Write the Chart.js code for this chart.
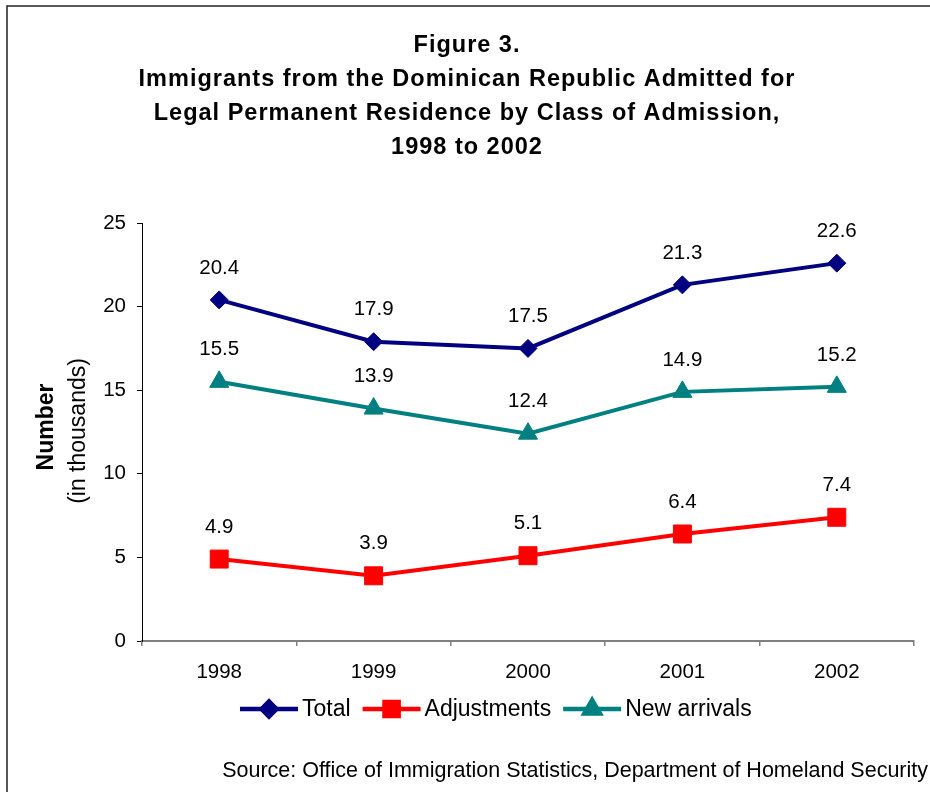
<!DOCTYPE html>
<html>
<head>
<meta charset="utf-8">
<script src="https://cdn.jsdelivr.net/npm/chart.js@4/dist/chart.umd.min.js"></script>
<style>
  html, body { margin: 0; padding: 0; background: #fff; }
  #wrap { width: 930px; height: 792px; position: relative; }
</style>
</head>
<body>
<div id="wrap"><canvas id="chart" width="930" height="792"></canvas></div>
<script>
const years = ["1998", "1999", "2000", "2001", "2002"];
const total = [20.4, 17.9, 17.5, 21.3, 22.6];
const adjustments = [4.9, 3.9, 5.1, 6.4, 7.4];
const newArrivals = [15.5, 13.9, 12.4, 14.9, 15.2];
const yTicks = [0, 5, 10, 15, 20, 25];

const titleLines = [
  "Figure 3.",
  "Immigrants from the Dominican Republic Admitted for",
  "Legal Permanent Residence by Class of Admission,",
  "1998 to 2002",
];
const sourceText = "Source: Office of Immigration Statistics, Department of Homeland Security";

const FONT = "'Liberation Sans', Arial, sans-serif";
const NAVY = "#000080";
const RED = "#ff0000";
const TEAL = "#008080";

// value labels above each point
const pointLabels = {
  id: "pointLabels",
  afterDatasetsDraw(chart) {
    const ctx = chart.ctx;
    ctx.save();
    ctx.font = `20.5px ${FONT}`;
    ctx.fillStyle = "#000";
    ctx.textAlign = "center";
    ctx.textBaseline = "middle";
    chart.data.datasets.forEach((ds, i) => {
      chart.getDatasetMeta(i).data.forEach((pt, j) => {
        ctx.fillText(ds.data[j].toFixed(1), pt.x, pt.y - 32);
      });
    });
    ctx.restore();
  },
};

// frame, title, axis title, legend and source note
const extras = {
  id: "extras",
  beforeDraw(chart) {
    const ctx = chart.ctx;
    ctx.save();
    ctx.strokeStyle = "#222";
    ctx.lineWidth = 1.5;
    ctx.strokeRect(7, 6, 940, 800);
    ctx.restore();
  },
  afterDraw(chart) {
    const ctx = chart.ctx;
    ctx.save();
    ctx.fillStyle = "#000";
    ctx.textAlign = "center";
    ctx.textBaseline = "middle";

    // title
    ctx.font = `bold 23.5px ${FONT}`;
    ctx.letterSpacing = "1px";
    titleLines.forEach((line, i) => {
      ctx.fillText(line, 467, 46 + i * 33.7);
    });
    ctx.letterSpacing = "0px";

    // y axis title
    ctx.translate(47, 0);
    ctx.rotate(-Math.PI / 2);
    ctx.font = `bold 23px ${FONT}`;
    ctx.fillText("Number", -427, 0);
    ctx.font = `23px ${FONT}`;
    ctx.fillText("(in thousands)", -431, 32);
    ctx.setTransform(1, 0, 0, 1, 0, 0);

    // legend
    ctx.font = `23px ${FONT}`;
    ctx.textAlign = "left";
    const ly = 709;
    let x = 240;
    chart.data.datasets.forEach((ds) => {
      ctx.strokeStyle = ds.borderColor;
      ctx.lineWidth = 4.5;
      ctx.beginPath();
      ctx.moveTo(x, ly);
      ctx.lineTo(x + 58, ly);
      ctx.stroke();
      Chart.helpers.drawPoint(ctx, {
        pointStyle: ds.pointStyle,
        radius: ds.legendRadius,
        borderWidth: 1,
      }, x + 29, ly);
      ctx.fillStyle = ds.borderColor;
      ctx.fill();
      ctx.fillStyle = "#000";
      ctx.fillText(ds.label, x + 62, ly + 1);
      x += 62 + ctx.measureText(ds.label).width + 12;
    });

    // source
    ctx.font = `21.5px ${FONT}`;
    ctx.textAlign = "right";
    ctx.fillText(sourceText, 928, 771);
    ctx.restore();
  },
};

function series(label, data, color, style, radius, legendRadius) {
  return {
    label,
    data,
    borderColor: color,
    backgroundColor: color,
    borderWidth: 4,
    pointStyle: style,
    pointRadius: radius,
    pointHoverRadius: radius,
    pointBorderWidth: 1,
    pointBackgroundColor: color,
    pointBorderColor: color,
    legendRadius,
    tension: 0,
    clip: false,
  };
}

new Chart(document.getElementById("chart"), {
  type: "line",
  data: {
    labels: years,
    datasets: [
      series("Total", total, NAVY, "rectRot", 9, 7.5),
      series("Adjustments", adjustments, RED, "rect", 12.7, 10),
      series("New arrivals", newArrivals, TEAL, "triangle", 11, 9),
    ],
  },
  options: {
    responsive: false,
    animation: false,
    layout: { padding: { left: 20, right: 16, top: 223, bottom: 101 } },
    plugins: {
      legend: { display: false },
      tooltip: { enabled: false },
      title: { display: false },
    },
    scales: {
      x: {
        offset: true,
        afterFit(scale) { scale.height = 50; },
        border: { display: true, color: "#808080", width: 2 },
        grid: { offset: true, drawOnChartArea: false, drawTicks: true, tickLength: 5, color: "#808080", lineWidth: 1.5 },
        ticks: { color: "#000", padding: 14, font: { family: FONT, size: 20.5 } },
      },
      y: {
        min: 0,
        max: 25,
        afterFit(scale) { scale.width = 122; },
        afterBuildTicks(scale) { scale.ticks = yTicks.map((v) => ({ value: v })); },
        border: { display: true, color: "#000", width: 1 },
        grid: { drawOnChartArea: false, drawTicks: true, tickLength: 5, color: "#000" },
        ticks: { color: "#000", padding: 11, font: { family: FONT, size: 20.5 } },
      },
    },
  },
  plugins: [pointLabels, extras],
});
</script>
</body>
</html>
